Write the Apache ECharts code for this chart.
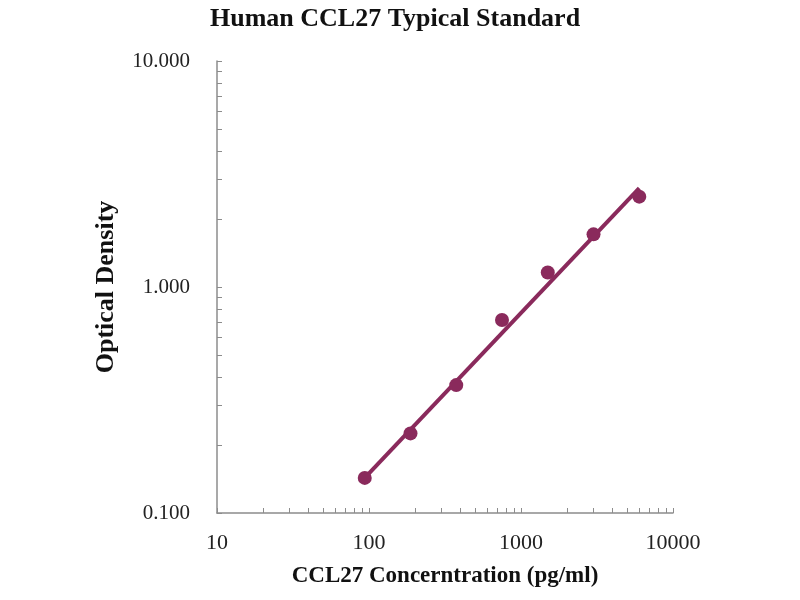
<!DOCTYPE html>
<html>
<head>
<meta charset="utf-8">
<script src="https://cdn.jsdelivr.net/npm/echarts@6/dist/echarts.min.js"></script>
<style>
  html, body { margin: 0; padding: 0; background: #fff; }
  #chart { width: 800px; height: 600px; }
</style>
</head>
<body>
<div id="chart"></div>
<script>
// standard concentrations (pg/ml) and measured OD
const conc = [93.75, 187.5, 375, 750, 1500, 3000, 6000];
const od = [0.143, 0.225, 0.368, 0.715, 1.16, 1.71, 2.51];

// fitted line end points
const fitConc = [93.75, 6000];
const fitOd = [0.143, 2.74];

// minor tick positions on the log axes
const xMinorTicks = [20, 30, 40, 50, 60, 70, 80, 90, 200, 300, 400, 500, 600, 700, 800, 900, 2000, 3000, 4000, 5000, 6000, 7000, 8000, 9000];
const yMinorTicks = [0.2, 0.3, 0.4, 0.5, 0.6, 0.7, 0.8, 0.9, 2, 3, 4, 5, 6, 7, 8, 9];
const xLabels = [10, 100, 1000, 10000];
const yLabels = [0.1, 1, 10];

const serif = "Liberation Serif";
const plum = "#8a2a5c";

const myChart = echarts.init(document.getElementById("chart"));

myChart.setOption({
  animation: false,
  title: {
    text: "Human CCL27 Typical Standard",
    left: 205,
    top: 1,
    textStyle: { fontFamily: serif, fontSize: 26, fontWeight: "bold", color: "#111" },
  },
  grid: { left: 217, right: 127, top: 61, bottom: 87 },
  xAxis: {
    type: "log",
    logBase: 10,
    min: 10,
    max: 10000,
    name: "CCL27 Concerntration (pg/ml)",
    nameLocation: "middle",
    nameGap: 52,
    nameTextStyle: { fontFamily: serif, fontSize: 23, fontWeight: "bold", color: "#111" },
    axisLine: { lineStyle: { color: "#8c8c8c", width: 1.5 } },
    axisTick: { inside: true, length: 5, customValues: xMinorTicks.concat(xLabels), lineStyle: { color: "#8c8c8c" } },
    axisLabel: {
      customValues: xLabels,
      margin: 19,
      fontFamily: serif,
      fontSize: 22,
      color: "#222",
      formatter: (v) => String(Math.round(v)),
    },
    splitLine: { show: false },
  },
  yAxis: {
    type: "log",
    logBase: 10,
    min: 0.1,
    max: 10,
    name: "Optical Density",
    nameLocation: "middle",
    nameGap: 98,
    nameTextStyle: { fontFamily: serif, fontSize: 26, fontWeight: "bold", color: "#111" },
    axisLine: { show: true, lineStyle: { color: "#8c8c8c", width: 1.5 } },
    axisTick: { show: true, inside: true, length: 5, customValues: yMinorTicks.concat(yLabels), lineStyle: { color: "#8c8c8c" } },
    axisLabel: {
      customValues: yLabels,
      margin: 27,
      fontFamily: serif,
      fontSize: 21,
      color: "#222",
      formatter: (v) => Number(v).toFixed(3),
    },
    splitLine: { show: false },
  },
  series: [
    {
      name: "fit",
      type: "line",
      data: fitConc.map((c, i) => [c, fitOd[i]]),
      symbol: "none",
      lineStyle: { color: plum, width: 4 },
      z: 2,
    },
    {
      name: "standard",
      type: "scatter",
      data: conc.map((c, i) => [c, od[i]]),
      symbolSize: 14,
      itemStyle: { color: plum, opacity: 1 },
      z: 3,
    },
  ],
});

window.onresize = function () {
  myChart.resize();
};
</script>
</body>
</html>
